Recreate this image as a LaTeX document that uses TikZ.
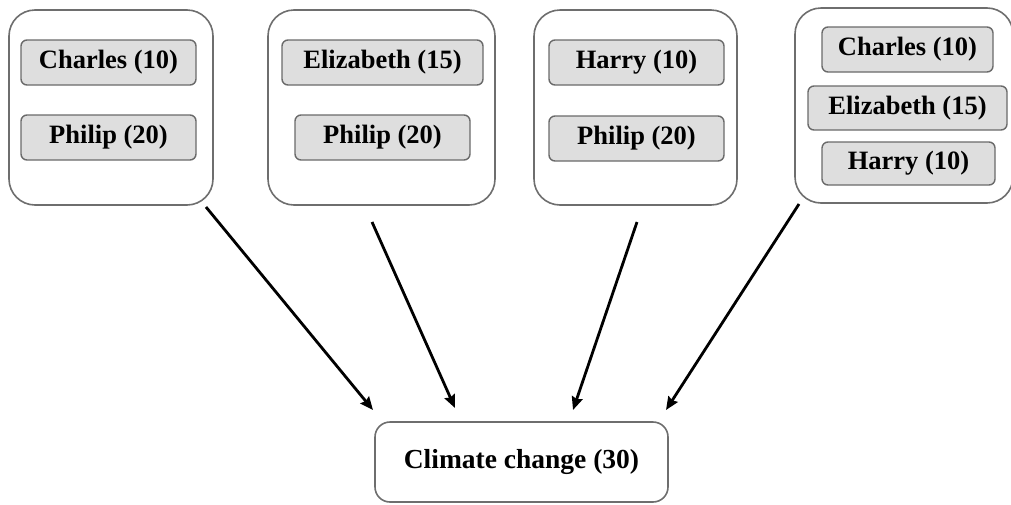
\documentclass[tikz,border=0pt]{standalone}
\usepackage{fontspec}
\setmainfont{Liberation Serif}
\usetikzlibrary{arrows.meta}
\definecolor{outerline}{HTML}{6E6E6E}
\definecolor{innerfill}{HTML}{DEDEDE}
\definecolor{innerline}{HTML}{6A6A6A}
\tikzset{
  groupbox/.style={draw=outerline, line width=1.6pt, rounded corners=26pt, fill=white, inner sep=0pt},
  personbox/.style={draw=innerline, line width=1.4pt, rounded corners=6pt, fill=innerfill, inner sep=0pt,
    font=\fontsize{26.5}{30}\selectfont\bfseries, minimum height=45pt},
  topicbox/.style={draw=outerline, line width=1.6pt, rounded corners=15pt, fill=white, inner sep=0pt,
    font=\fontsize{27.5}{32}\selectfont\bfseries, minimum width=293pt, minimum height=80pt},
  link/.style={line width=2.8pt, -{Stealth[length=13pt,width=11pt,inset=1.5pt]}}
}
\begin{document}
\begin{tikzpicture}[x=1pt,y=-1pt]
\useasboundingbox (0,0) rectangle (1011,504);
% group boxes
\node[groupbox, minimum width=204pt, minimum height=195pt] (g1) at (111,107.5) {};
\node[groupbox, minimum width=227pt, minimum height=195pt] (g2) at (381.5,107.5) {};
\node[groupbox, minimum width=203pt, minimum height=195pt] (g3) at (635.5,107.5) {};
\node[groupbox, minimum width=218pt, minimum height=195pt] (g4) at (904,105.5) {};
% persons
\node[personbox, minimum width=175pt] (c1) at (108.5,62.5) {Charles (10)};
\node[personbox, minimum width=175pt] (p1) at (108.5,137.5) {Philip (20)};
\node[personbox, minimum width=201pt] (e2) at (382.5,62.5) {Elizabeth (15)};
\node[personbox, minimum width=175pt] (p2) at (382.5,137.5) {Philip (20)};
\node[personbox, minimum width=175pt] (h3) at (636.5,62.5) {Harry (10)};
\node[personbox, minimum width=175pt] (p3) at (636.5,138.5) {Philip (20)};
\node[personbox, minimum width=171pt] (c4) at (907.5,49.5) {Charles (10)};
\node[personbox, minimum width=199pt, minimum height=44pt] (e4) at (907.5,108) {Elizabeth (15)};
\node[personbox, minimum width=173pt, minimum height=43pt] (h4) at (908.5,163.5) {Harry (10)};
% topic
\node[topicbox] (cc) at (521.5,462) {Climate change (30)};
% arrow ends
\coordinate (s1) at (206,207);
\coordinate (t1) at (373,410);
\coordinate (s2) at (372,222);
\coordinate (t2) at (455,408);
\coordinate (s3) at (637,222);
\coordinate (t3) at (573,410);
\coordinate (s4) at (799,204);
\coordinate (t4) at (666,410);
\draw[link] (s1) -- (t1);
\draw[link] (s2) -- (t2);
\draw[link] (s3) -- (t3);
\draw[link] (s4) -- (t4);
\end{tikzpicture}
\end{document}
